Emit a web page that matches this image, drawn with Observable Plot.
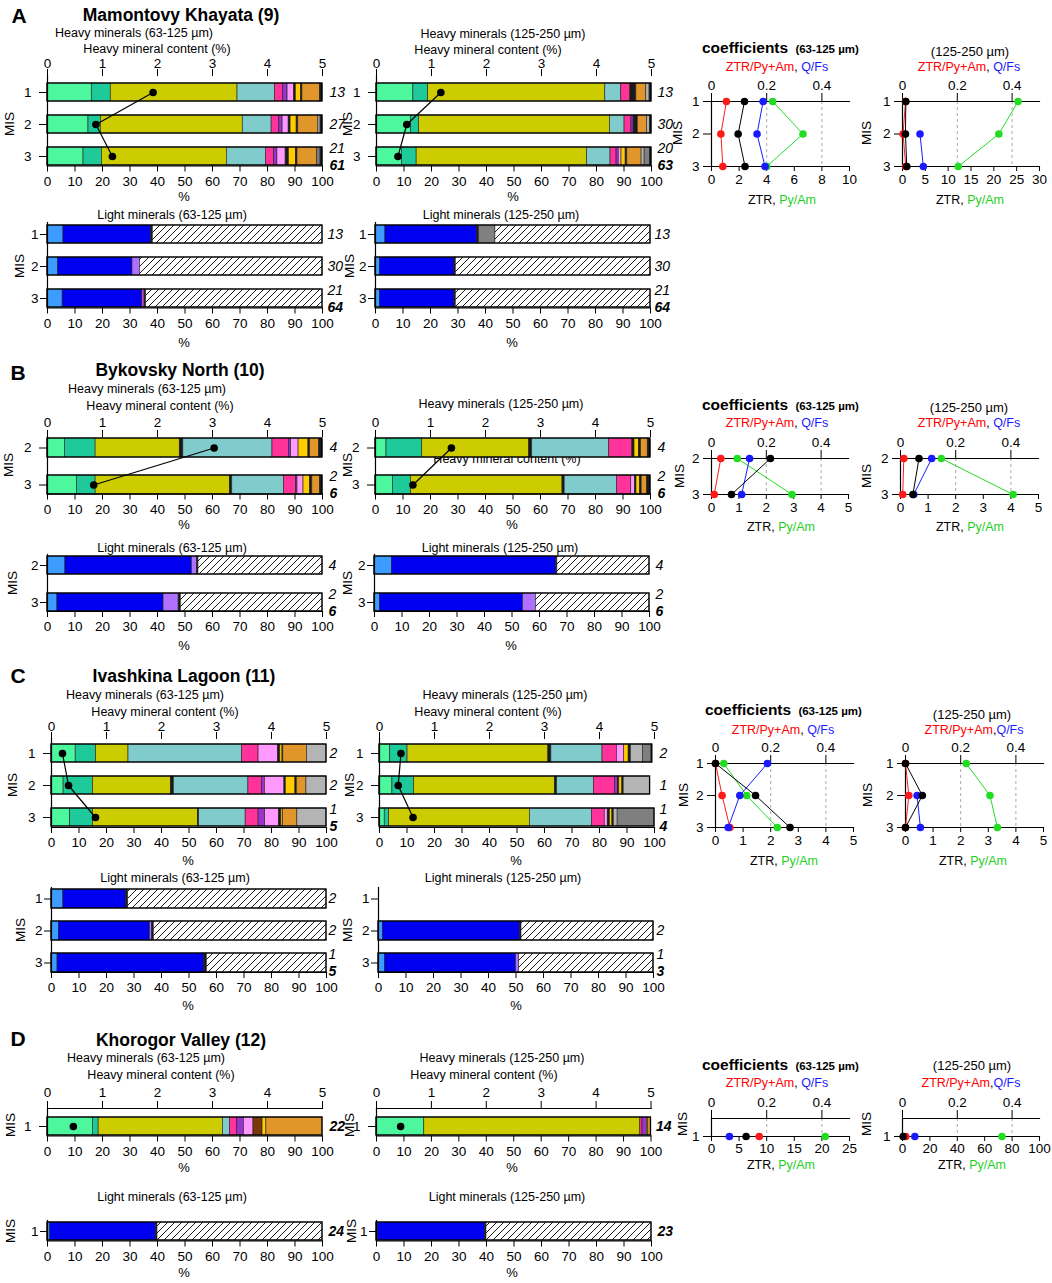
<!DOCTYPE html>
<html><head><meta charset="utf-8">
<script src="https://cdn.jsdelivr.net/npm/d3@7"></script>
<script src="https://cdn.jsdelivr.net/npm/@observablehq/plot@0.6"></script>
<style>
body{margin:0;background:#fff;}
#root{position:relative;width:1052px;height:1283px;overflow:hidden;background:#fff;font-family:"Liberation Sans",Arial,sans-serif;color:#000;}
.lbl{position:absolute;white-space:nowrap;line-height:1;z-index:0;}
svg.pl{position:absolute;overflow:visible;z-index:1;}
</style></head>
<body>
<svg width="0" height="0" style="position:absolute">
  <defs>
    <pattern id="hatch" patternUnits="userSpaceOnUse" width="7" height="7">
      <rect width="7" height="7" fill="#fff"/>
      <path d="M-1,1 l2,-2 M0,7 l7,-7 M6,8 l2,-2" stroke="#000" stroke-width="0.9"/>
    </pattern>
  </defs>
</svg>
<div id="root"></div>
<script>
// ---------- categories ----------
const heavyCats = ["light green","teal","olive","black 1","cyan","pink","purple","light pink","black 2","brown","yellow","black 3","orange","light grey","dark grey","black 4"];
const heavyColors = ["#4cf79e","#1ec99a","#cccc00","#1a1a1a","#80cccc","#ff3399","#9933cc","#ff99ff","#1a1a1a","#7a3808","#ffcc00","#1a1a1a","#e0962a","#b4b4b4","#7f7f7f","#1a1a1a"];
const lightCats = ["light blue","blue","lavender","magenta","black","grey","other"];
const lightColors = ["#3d9cff","#0000f0","#b070ff","#dd55dd","#1a1a1a","#808080","url(#hatch)"];

// ---------- A: Mamontovy Khayata ----------
const misA = ["1","2","3"];
const heavyA63 = [
  [16.1, 6.9, 46.1, 0, 13.6, 2.9, 1.7, 2.4, 0.6, 0, 1.9, 0.5, 6.4, 0, 0, 0.9],
  [14.9, 4.5, 51.6, 0, 10.5, 2.8, 1.2, 2.2, 0.7, 0, 2.2, 0.6, 7.3, 0.8, 0, 0.7],
  [13.1, 6.7, 45.4, 0, 14.2, 3.0, 1.2, 3.0, 1.2, 0, 2.5, 0.6, 7.2, 0, 1.2, 0.7]];
const heavyA125 = [
  [13.4, 5.4, 64.4, 0, 5.8, 3.3, 0, 0, 2.2, 0, 0, 0, 3.6, 1.2, 0, 0.7],
  [12.5, 3.0, 69.4, 0, 5.3, 2.5, 0.8, 0, 1.5, 0, 0, 0, 3.4, 1.0, 0, 0.6],
  [9.2, 5.4, 62.0, 0, 8.5, 2.2, 0.8, 1.0, 0, 0, 1.5, 0.6, 5.2, 1.1, 1.9, 0.6]];
const contentA63 = [1.92, 0.88, 1.18];
const contentA125 = [1.17, 0.55, 0.39];
const lightA63 = [[5.8, 31.9, 0, 0, 0.6, 0, 61.7],[3.9, 27.0, 2.7, 0, 0, 0, 66.4],[5.5, 29.0, 0, 0.8, 0.6, 0, 64.1]];
const lightA125 = [[3.6, 33.4, 0, 0, 0.6, 6.0, 56.4],[1.7, 27.0, 0, 0, 0.5, 0, 70.8],[1.7, 27.0, 0, 0, 0.5, 0, 70.8]];
const nHeavyA63 = ["13","27",["21","61"]];
const nHeavyA125 = ["13","30",["20","63"]];
const nLightA63 = ["13","30",["21","64"]];
const nLightA125 = ["13","30",["21","64"]];
const coefMisA = [1,2,3];
const coefA63 = {ztrPyAm:[0.054,0.034,0.041], ztr:[2.39,1.93,2.43], qfs:[0.187,0.165,0.194], pyAm:[4.43,6.63,4.0]};
const coefA125 = {ztrPyAm:[0.011,0.002,0.012], ztr:[0.73,0.65,0.94], qfs:[null,0.064,0.076], pyAm:[25.3,21.1,12.2]};

// ---------- B: Bykovsky North ----------
const misB = ["2","3"];
const heavyB63 = [
  [6.3, 11.2, 30.6, 1.3, 32.4, 6.0, 0.8, 2.7, 0, 0, 3.6, 0.6, 3.3, 0, 0, 1.2],
  [10.7, 6.8, 48.8, 0.9, 18.8, 4.4, 0.5, 2.2, 0, 0, 2.4, 0.8, 2.8, 0, 0, 0.9]];
const heavyB125 = [
  [4.0, 13.0, 38.9, 1.1, 28.0, 8.4, 0, 0, 0.8, 0, 1.6, 0.8, 2.4, 0, 0, 1.0],
  [6.3, 6.6, 55.1, 0.8, 19.0, 5.2, 0, 1.4, 0.5, 0, 1.3, 0.6, 2.0, 0, 0, 1.2]];
const contentB63 = [3.03, 0.84];
const contentB125 = [1.38, 0.68];
const lightB63 = [[6.5, 46.0, 1.9, 0, 0.5, 0, 45.1],[3.6, 38.6, 5.5, 0, 0.8, 0, 51.5]];
const lightB125 = [[6.3, 59.8, 0, 0, 0.4, 0, 33.5],[2.0, 52.0, 4.7, 0, 0, 0, 41.3]];
const nB = ["4",["2","6"]];
const coefMisB = [2,3];
const coefB63 = {ztrPyAm:[0.034,0.010], ztr:[2.15,0.73], qfs:[0.139,0.110], pyAm:[0.94,2.94]};
const coefB125 = {ztrPyAm:[0.012,0.008], ztr:[0.67,0.45], qfs:[0.113,0.048], pyAm:[1.48,4.08]};

// ---------- C: Ivashkina Lagoon ----------
const misC = ["1","2","3"];
const heavyC63 = [
  [8.8, 7.4, 11.8, 0, 41.3, 6.0, 0, 7.1, 0.8, 0, 0.8, 0.3, 8.6, 7.1, 0, 0],
  [4.4, 10.7, 28.3, 1.1, 27.1, 4.9, 1.1, 7.1, 0.5, 0, 3.5, 0.5, 3.5, 7.3, 0, 0],
  [6.8, 8.3, 38.1, 0.5, 16.9, 4.7, 2.4, 5.0, 0.9, 0, 0.6, 0, 5.2, 10.6, 0, 0]];
const heavyC125 = [
  [3.9, 6.3, 51.2, 1.1, 18.6, 5.2, 0, 2.7, 0, 0, 1.6, 0.8, 0, 4.4, 3.1, 0.3],
  [4.7, 7.9, 51.2, 0.8, 13.4, 7.6, 1.1, 0, 0.5, 0, 1.1, 0.5, 0, 9.6, 0, 0],
  [1.9, 1.6, 51.2, 0, 22.5, 4.7, 0, 1.1, 0.8, 0, 0.9, 0.5, 0, 1.4, 13.4, 0]];
const contentC63 = [0.20, 0.31, 0.80];
const contentC125 = [0.39, 0.34, 0.61];
const lightC63 = [[4.3, 22.8, 0, 0, 0.8, 0, 72.1],[2.7, 33.1, 0.8, 0, 0.6, 0, 62.8],[2.2, 53.2, 0, 0, 1.1, 0, 43.5]];
const lightC125 = [[0,0,0,0,0,0,0],[1.6, 49.9, 0, 0, 0.5, 0, 48.0],[2.4, 47.6, 1.1, 0, 0, 0, 48.9]];
const nHeavyC63 = ["2","2",["1","5"]];
const nHeavyC125 = ["2","1",["1","4"]];
const nLightC63 = ["2","2",["1","5"]];
const nLightC125 = [null,"2",["1","3"]];
const coefMisC = [1,2,3];
const coefC63 = {ztrPyAm:[0,0.024,0.052], ztr:[0,1.45,2.70], qfs:[0.188,0.088,0.046], pyAm:[0.30,1.13,2.24]};
const coefC125 = {ztrPyAm:[0,0.012,0], ztr:[0,0.61,0], qfs:[null,0.042,0.054], pyAm:[2.20,3.06,3.33]};

// ---------- D: Khorogor Valley ----------
const misD = ["1"];
const heavyD63 = [[16.5, 2.1, 45.2, 0, 2.5, 2.7, 2.4, 3.5, 0, 3.3, 1.4, 0, 20.4, 0, 0, 0]];
const heavyD125 = [[17.4, 0, 78.7, 0, 0, 0.8, 1.6, 0, 0, 0, 0.5, 0, 1.0, 0, 0, 0]];
const contentD63 = [0.47];
const contentD125 = [0.44];
const lightD63 = [[1.0, 38.5, 0, 0, 0.5, 0, 60.0]];
const lightD125 = [[0.5, 39.0, 0, 0, 0.5, 0, 60.0]];
const coefMisD = [1];
const coefD63 = {ztrPyAm:[0.173], ztr:[6.27], qfs:[0.065], pyAm:[20.6]};
const coefD125 = {ztrPyAm:[0.012], ztr:[0.5], qfs:[0.045], pyAm:[72.6]};

// ---------- helpers ----------
const FONT = '"Liberation Sans", Arial, sans-serif';
const root = document.getElementById("root");
function txt(html, x, y, o = {}) {
  const d = document.createElement("div");
  d.className = "lbl";
  d.innerHTML = html;
  d.style.left = x + "px"; d.style.top = y + "px";
  d.style.fontSize = (o.size || 13) + "px";
  if (o.bold) d.style.fontWeight = "bold";
  let tr = o.start ? "translate(0,-50%)" : "translate(-50%,-50%)";
  if (o.rot) tr += " rotate(-90deg)";
  d.style.transform = tr;
  root.appendChild(d);
}
function place(svg, left, top) {
  svg.classList.add("pl");
  svg.style.left = left + "px"; svg.style.top = top + "px";
  root.appendChild(svg);
}

function barPlot(c) {
  const heavy = c.kind === "heavy";
  const cats = heavy ? heavyCats : lightCats;
  const colors = heavy ? heavyColors : lightColors;
  const n = c.rows.length;
  const bandBottom = c.bandTop + (n > 1 ? c.step * (n - 1) : 0) + c.barH;
  const mL = 50, mR = 45, mT = 30, mB = 30;
  const svgTop = c.frameTop - mT;
  const width = mL + (c.x1 - c.x0) + mR;
  const height = mT + (bandBottom - c.frameTop) + mB;
  const pi = n > 1 ? 1 - c.barH / c.step : 0;
  const table = [];
  c.rows.forEach((r, i) => c.values[i].forEach((v, j) => { if (v > 0) table.push({mis: r, cat: cats[j], v}); }));
  const totals = c.rows.map((r, i) => ({mis: r, total: d3.sum(c.values[i])})).filter(d => d.total > 0);
  const marks = [
    Plot.barX(table, Plot.stackX({x: "v", y: "mis", fill: "cat", stroke: "#222", strokeWidth: 0.6})),
    Plot.barX(totals, {x: "total", y: "mis", fill: "none", stroke: "#000", strokeWidth: 1.3}),
    Plot.frame({anchor: "left", strokeWidth: 1.2}),
    Plot.frame({anchor: "bottom", strokeWidth: 1.2}),
    Plot.axisX({anchor: "bottom", ticks: d3.range(0, 101, 10), tickFormat: d => String(d), tickSize: 6, tickPadding: 4, label: null}),
    Plot.axisY({anchor: "left", tickSize: heavy ? 8 : 7, tickPadding: heavy ? (c.tickPad ?? 8) : 2, label: null})
  ];
  if (c.topAxis) {
    marks.push(Plot.axisX({anchor: "top", ticks: d3.range(0, 101, 20), tickFormat: d => String(d / 20),
      tickSize: c.topTick ?? 7, tickPadding: c.topPad ?? 1, label: null}));
  }
  if (c.topLine) marks.push(Plot.frame({anchor: "top", strokeWidth: 1.2}));
  if (c.content) {
    const cd = c.rows.map((r, i) => ({mis: r, x: c.content[i] * 20}));
    marks.push(Plot.line(cd, {x: "x", y: "mis", stroke: "#000", strokeWidth: 1.2}));
    marks.push(Plot.dot(cd, {x: "x", y: "mis", r: 3.8, fill: "#000"}));
  }
  const single = [], num = [], den = [];
  c.labels.forEach((l, i) => {
    if (l == null) return;
    if (Array.isArray(l)) { num.push({mis: c.rows[i], t: l[0]}); den.push({mis: c.rows[i], t: l[1]}); }
    else single.push({mis: c.rows[i], t: l});
  });
  const dx = c.labelDx ?? 7;
  marks.push(Plot.text(single, {y: "mis", text: "t", frameAnchor: "right", dx, textAnchor: "start",
    fontStyle: "italic", fontWeight: c.boldLabels ? "bold" : "normal", fontSize: 14}));
  marks.push(Plot.text(num, {y: "mis", text: "t", frameAnchor: "right", dx, dy: -8, textAnchor: "start",
    fontStyle: "italic", fontSize: 14, ariaLabel: "fracnum"}));
  marks.push(Plot.text(den, {y: "mis", text: "t", frameAnchor: "right", dx, dy: 9, textAnchor: "start",
    fontStyle: "italic", fontWeight: "bold", fontSize: 14}));
  const svg = Plot.plot({
    width, height, marginLeft: mL, marginRight: mR, marginTop: mT, marginBottom: mB,
    style: {fontFamily: FONT, fontSize: "13.5px", background: "transparent", overflow: "visible"},
    x: {domain: [0, 100]},
    y: {type: "band", domain: c.rows, range: [c.bandTop - svgTop, bandBottom - svgTop], paddingInner: pi, paddingOuter: 0},
    color: {type: "ordinal", domain: cats, range: colors},
    marks
  });
  d3.select(svg).selectAll('g[aria-label="fracnum"] text').style("text-decoration", "underline");
  place(svg, c.x0 - mL, svgTop);
}

function coefPlot(c) {
  const mL = 45, mR = 15, mT = 30, mB = 25;
  const width = mL + (c.x1 - c.x0) + mR;
  const height = mT + (c.yBottom - c.yTop) + mB;
  const k = c.k;
  const mk = (arr, s) => c.mis.map((m, i) => ({mis: m, x: arr[i] == null ? null : arr[i] * s})).filter(d => d.x != null);
  const series = [[c.data.ztrPyAm, k, "#ff1a1a"], [c.data.pyAm, 1, "#22dd22"], [c.data.qfs, k, "#1a1aff"], [c.data.ztr, 1, "#000"]];
  const marks = [
    Plot.ruleX([0.2 * k, 0.4 * k], {stroke: "#aaa", strokeDasharray: "3,3"}),
    Plot.frame({anchor: "top", strokeWidth: 1.2}),
    Plot.frame({anchor: "bottom", strokeWidth: 1.2}),
    Plot.frame({anchor: "left", strokeWidth: 1.2}),
    Plot.axisX({anchor: "top", ticks: [0, 0.2 * k, 0.4 * k], tickFormat: d => d === 0 ? "0" : (d / k).toFixed(1), tickSize: 9, tickPadding: 3, label: null}),
    Plot.axisX({anchor: "bottom", ticks: c.xticks, tickFormat: d => String(d), tickSize: 5, tickPadding: c.botPad ?? 3, label: null}),
    Plot.axisY({anchor: "left", ticks: c.mis, tickFormat: d => String(d), tickSize: 8, tickPadding: 4, label: null})
  ];
  for (const [arr, s, col] of series) {
    const d = mk(arr, s);
    marks.push(Plot.line(d, {x: "x", y: "mis", stroke: col, strokeWidth: 1}));
    marks.push(Plot.dot(d, {x: "x", y: "mis", r: 3.8, fill: col}));
  }
  const svg = Plot.plot({
    width, height, marginLeft: mL, marginRight: mR, marginTop: mT, marginBottom: mB,
    style: {fontFamily: FONT, fontSize: "13.5px", background: "transparent", overflow: "visible"},
    x: {domain: [0, c.xmax]},
    y: {domain: c.yDomain, range: [mT, height - mB]},
    marks
  });
  place(svg, c.x0 - mL, c.yTop - mT);
}

const RB = '<span style="color:#f00">ZTR/Py+Am</span>, <span style="color:#1a1aff">Q/Fs</span>';
const RB2 = '<span style="color:#f00">ZTR/Py+Am</span>,<span style="color:#1a1aff">Q/Fs</span>';
const BOT = 'ZTR, <span style="color:#1fcf1f">Py/Am</span>';
const COEF = '<b style="font-size:15.5px">coefficients</b>&nbsp; <b style="font-size:11.5px">(63-125 µm)</b>';

// ======== Panel A ========
txt("A", 19, 15, {size: 21, bold: true});
txt("Mamontovy Khayata (9)", 181, 16, {size: 17.5, bold: true});
txt("Heavy minerals (63-125 µm)", 134, 33, {size: 12.5});
txt("Heavy mineral content (%)", 157, 49, {size: 12.5});
txt("Heavy minerals (125-250 µm)", 503, 34, {size: 12.5});
txt("Heavy mineral content (%)", 488, 50, {size: 12.5});
txt("%", 184, 196); txt("%", 513, 196);
txt("MIS", 10, 124, {rot: true, size: 13.5}); txt("MIS", 348, 124, {rot: true, size: 13.5});
barPlot({kind: "heavy", rows: misA, values: heavyA63, content: contentA63, labels: nHeavyA63, x0: 47, x1: 322, bandTop: 82, step: 32.5, barH: 18.5, frameTop: 75, topAxis: true});
barPlot({kind: "heavy", rows: misA, values: heavyA125, content: contentA125, labels: nHeavyA125, x0: 376, x1: 651, bandTop: 82, step: 32.5, barH: 18.5, frameTop: 75, topAxis: true, labelDx: 6});
txt("Light minerals (63-125 µm)", 172, 215, {size: 12.5});
txt("Light minerals (125-250 µm)", 501, 215, {size: 12.5});
txt("%", 184, 342); txt("%", 512, 342);
txt("MIS", 20, 266, {rot: true, size: 13.5}); txt("MIS", 350, 266, {rot: true, size: 13.5});
barPlot({kind: "light", rows: misA, values: lightA63, labels: nLightA63, x0: 47, x1: 322, bandTop: 224, step: 32.5, barH: 18.5, frameTop: 222, labelDx: 5});
barPlot({kind: "light", rows: misA, values: lightA125, labels: nLightA125, x0: 375, x1: 650, bandTop: 224, step: 32.5, barH: 18.5, frameTop: 222, labelDx: 4});
txt(COEF, 702, 48, {start: true});
txt(RB, 777, 67, {size: 12.5});
txt("(125-250 µm)", 970, 51, {size: 13});
txt(RB, 969, 67, {size: 12.5});
txt(BOT, 782, 200, {size: 12.5}); txt(BOT, 970, 200, {size: 12.5});
txt("MIS", 678, 133, {rot: true, size: 13.5}); txt("MIS", 867, 133, {rot: true, size: 13.5});
coefPlot({x0: 711, x1: 849, yTop: 101, yBottom: 166, yDomain: [1, 3], mis: coefMisA, xmax: 10, k: 20, xticks: d3.range(0, 11, 2), data: coefA63});
coefPlot({x0: 902, x1: 1039, yTop: 101, yBottom: 166, yDomain: [1, 3], mis: coefMisA, xmax: 30, k: 60, xticks: d3.range(0, 31, 5), data: coefA125});

// ======== Panel B ========
txt("B", 18, 372, {size: 21, bold: true});
txt("Bykovsky North (10)", 180, 371, {size: 17.5, bold: true});
txt("Heavy minerals (63-125 µm)", 147, 389, {size: 12.5});
txt("Heavy mineral content (%)", 160, 406, {size: 12.5});
txt("Heavy minerals (125-250 µm)", 501, 404, {size: 12.5});
txt("Heavy mineral content (%)", 507, 459, {size: 12.5});
txt("%", 184, 524); txt("%", 512, 524);
txt("MIS", 9, 465, {rot: true, size: 13.5}); txt("MIS", 348, 465, {rot: true, size: 13.5});
barPlot({kind: "heavy", rows: misB, values: heavyB63, content: contentB63, labels: nB, x0: 46.5, x1: 321.5, bandTop: 438, step: 37, barH: 18.5, frameTop: 436, topAxis: true, topPad: 3});
barPlot({kind: "heavy", rows: misB, values: heavyB125, content: contentB125, labels: nB, x0: 375, x1: 650, bandTop: 438, step: 37, barH: 18.5, frameTop: 436, topAxis: true, topPad: 3});
txt("Light minerals (63-125 µm)", 172, 548, {size: 12.5});
txt("Light minerals (125-250 µm)", 500, 548, {size: 12.5});
txt("%", 184, 645); txt("%", 511, 645);
txt("MIS", 13, 583, {rot: true, size: 13.5}); txt("MIS", 348, 583, {rot: true, size: 13.5});
barPlot({kind: "light", rows: misB, values: lightB63, labels: nB, x0: 46.5, x1: 321.5, bandTop: 556, step: 37, barH: 18, frameTop: 554, labelDx: 6});
barPlot({kind: "light", rows: misB, values: lightB125, labels: nB, x0: 374, x1: 649, bandTop: 556, step: 37, barH: 18, frameTop: 554, labelDx: 6});
txt(COEF, 702, 405, {start: true});
txt(RB, 777, 423, {size: 12.5});
txt("(125-250 µm)", 969, 407, {size: 13});
txt(RB, 969, 423, {size: 12.5});
txt(BOT, 781, 527, {size: 12.5}); txt(BOT, 970, 527, {size: 12.5});
txt("MIS", 680, 476, {rot: true, size: 13.5}); txt("MIS", 867, 476, {rot: true, size: 13.5});
coefPlot({x0: 711, x1: 848, yTop: 458, yBottom: 494, yDomain: [2, 3], mis: coefMisB, xmax: 5, k: 10, xticks: d3.range(0, 6, 1), data: coefB63});
coefPlot({x0: 900, x1: 1038, yTop: 458, yBottom: 494, yDomain: [2, 3], mis: coefMisB, xmax: 5, k: 10, xticks: d3.range(0, 6, 1), data: coefB125});

// ======== Panel C ========
txt("C", 18, 675, {size: 21, bold: true});
txt("Ivashkina Lagoon (11)", 184, 677, {size: 17.5, bold: true});
txt("Heavy minerals (63-125 µm)", 145, 695, {size: 12.5});
txt("Heavy mineral content (%)", 165, 712, {size: 12.5});
txt("Heavy minerals (125-250 µm)", 505, 695, {size: 12.5});
txt("Heavy mineral content (%)", 488, 712, {size: 12.5});
txt("%", 188, 860); txt("%", 516, 860);
txt("MIS", 13, 785, {rot: true, size: 13.5}); txt("MIS", 350, 785, {rot: true, size: 13.5});
barPlot({kind: "heavy", rows: misC, values: heavyC63, content: contentC63, labels: nHeavyC63, x0: 50.5, x1: 325.5, bandTop: 744, step: 32.25, barH: 18.5, frameTop: 738, topAxis: true, labelDx: 3});
barPlot({kind: "heavy", rows: misC, values: heavyC125, content: contentC125, labels: nHeavyC125, x0: 379, x1: 654, bandTop: 744, step: 32.25, barH: 18.5, frameTop: 738, topAxis: true, labelDx: 5});
txt("Light minerals (63-125 µm)", 175, 878, {size: 12.5});
txt("Light minerals (125-250 µm)", 503, 878, {size: 12.5});
txt("%", 188, 1005); txt("%", 516, 1005);
txt("MIS", 21, 930, {rot: true, size: 13.5}); txt("MIS", 348, 930, {rot: true, size: 13.5});
barPlot({kind: "light", rows: misC, values: lightC63, labels: nLightC63, x0: 51, x1: 326, bandTop: 889, step: 32, barH: 19, frameTop: 887, labelDx: 2});
barPlot({kind: "light", rows: misC, values: lightC125, labels: nLightC125, x0: 378, x1: 653, bandTop: 889, step: 32, barH: 19, frameTop: 887, labelDx: 3});
txt(COEF, 705, 710, {start: true});
txt(RB, 783, 730, {size: 12.5});
txt("(125-250 µm)", 972, 714, {size: 13});
txt(RB2, 974, 730, {size: 12.5});
txt(BOT, 784, 861, {size: 12.5}); txt(BOT, 973, 861, {size: 12.5});
txt("MIS", 684, 795, {rot: true, size: 13.5}); txt("MIS", 868, 795, {rot: true, size: 13.5});
coefPlot({x0: 715, x1: 853, yTop: 763, yBottom: 827, yDomain: [1, 3], mis: coefMisC, xmax: 5, k: 10, xticks: d3.range(0, 6, 1), data: coefC63});
coefPlot({x0: 905, x1: 1043, yTop: 763, yBottom: 827, yDomain: [1, 3], mis: coefMisC, xmax: 5, k: 10, xticks: d3.range(0, 6, 1), data: coefC125});

// ======== Panel D ========
txt("D", 18, 1038, {size: 21, bold: true});
txt("Khorogor Valley (12)", 181, 1041, {size: 17.5, bold: true});
txt("Heavy minerals (63-125 µm)", 146, 1058, {size: 12.5});
txt("Heavy mineral content (%)", 161, 1075, {size: 12.5});
txt("Heavy minerals (125-250 µm)", 502, 1058, {size: 12.5});
txt("Heavy mineral content (%)", 484, 1075, {size: 12.5});
txt("%", 184, 1167); txt("%", 512, 1167);
txt("MIS", 11, 1125, {rot: true, size: 13.5}); txt("MIS", 350, 1125, {rot: true, size: 13.5});
barPlot({kind: "heavy", rows: misD, values: heavyD63, content: contentD63, labels: ["22"], boldLabels: true, x0: 46.5, x1: 321.5, bandTop: 1117, step: 18.5, barH: 18.5, frameTop: 1108, topAxis: true, topLine: true, topTick: 8, topPad: 4});
barPlot({kind: "heavy", rows: misD, values: heavyD125, content: contentD125, labels: ["14"], boldLabels: true, x0: 375.5, x1: 650, bandTop: 1117, step: 18.5, barH: 18.5, frameTop: 1108, topAxis: true, topLine: true, topTick: 8, topPad: 4, labelDx: 5});
txt("Light minerals (63-125 µm)", 172, 1197, {size: 12.5});
txt("Light minerals (125-250 µm)", 507, 1197, {size: 12.5});
txt("%", 184, 1272); txt("%", 512, 1272);
txt("MIS", 11, 1231, {rot: true, size: 13.5}); txt("MIS", 352, 1231, {rot: true, size: 13.5});
barPlot({kind: "light", rows: misD, values: lightD63, labels: ["24"], boldLabels: true, x0: 47, x1: 322, bandTop: 1222, step: 18.5, barH: 18.5, frameTop: 1220, labelDx: 6});
barPlot({kind: "light", rows: misD, values: lightD125, labels: ["23"], boldLabels: true, x0: 376, x1: 651, bandTop: 1222, step: 18.5, barH: 18.5, frameTop: 1220, labelDx: 6});
txt(COEF, 702, 1065, {start: true});
txt(RB, 777, 1083, {size: 12.5});
txt("(125-250 µm)", 972, 1065, {size: 13});
txt(RB2, 971, 1083, {size: 12.5});
txt(BOT, 781, 1165, {size: 12.5}); txt(BOT, 972, 1165, {size: 12.5});
txt("MIS", 683, 1124, {rot: true, size: 13.5}); txt("MIS", 867, 1124, {rot: true, size: 13.5});
coefPlot({x0: 711, x1: 849, yTop: 1118, yBottom: 1136, yDomain: [0, 1], mis: coefMisD, xmax: 25, k: 50, xticks: d3.range(0, 26, 5), data: coefD63, botPad: 2});
coefPlot({x0: 902, x1: 1039, yTop: 1118, yBottom: 1136, yDomain: [0, 1], mis: coefMisD, xmax: 100, k: 200, xticks: d3.range(0, 101, 20), data: coefD125, botPad: 2});
</script>
</body></html>
